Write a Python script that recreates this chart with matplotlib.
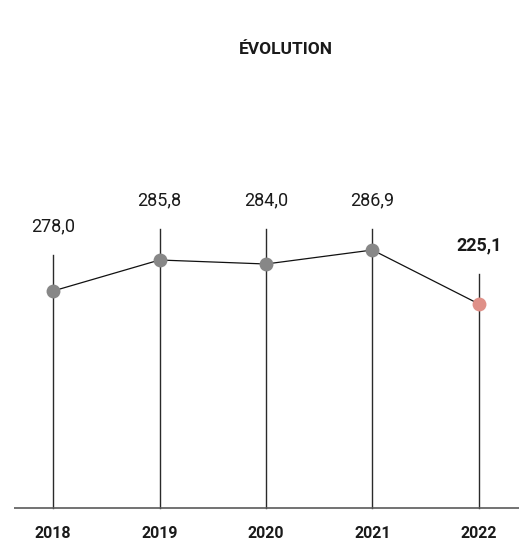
import matplotlib
matplotlib.use("Agg")
import matplotlib.pyplot as plt

# Data
years = [2018, 2019, 2020, 2021, 2022]
value_labels = ["278,0", "285,8", "284,0", "286,9", "225,1"]
# marker level as drawn in the picture (height above baseline, arbitrary units)
marker_levels = [217, 248, 244, 258, 204]
# top of each stem (same units)
stem_tops = [253, 279, 279, 279, 234]
highlight = [False, False, False, False, True]

plt.rcParams['font.family'] = ['Roboto', 'DejaVu Sans']

fig = plt.figure(figsize=(5.19, 5.42), dpi=100)
ax = fig.add_axes([0, 0, 1, 1])
ax.set_xlim(2017.502, 2022.376)
ax.set_ylim(-34, 508)
ax.axis('off')

# baseline
ax.plot([2017.63, 2022.376], [0, 0], color='#5a5a5a', lw=1.2, solid_capstyle='butt')

for yr, top in zip(years, stem_tops):
    ax.plot([yr, yr], [0, top], color='#2a2a2a', lw=1.0, zorder=1)

ax.plot(years, marker_levels, color='#111111', lw=0.9, zorder=2)
for yr, lv, hl in zip(years, marker_levels, highlight):
    ax.plot(yr, lv, 'o', ms=10, color='#df9088' if hl else '#878787',
            markeredgewidth=0, zorder=3)

for yr, top, lab, hl in zip(years, stem_tops, value_labels, highlight):
    ax.text(yr, top + 29, lab, ha='center', va='center', fontsize=13,
            fontweight='bold' if hl else 'normal', color='#1a1a1a')

for yr in years:
    ax.text(yr, -25.5, str(yr), ha='center', va='center', fontsize=11.5,
            fontweight='bold', color='#1a1a1a')

fig.text(286 / 519, 1 - 50 / 542, "ÉVOLUTION", ha='center', va='center',
         fontsize=12.5, fontweight='bold', color='#1a1a1a')

fig.savefig('out.png', dpi=100)
